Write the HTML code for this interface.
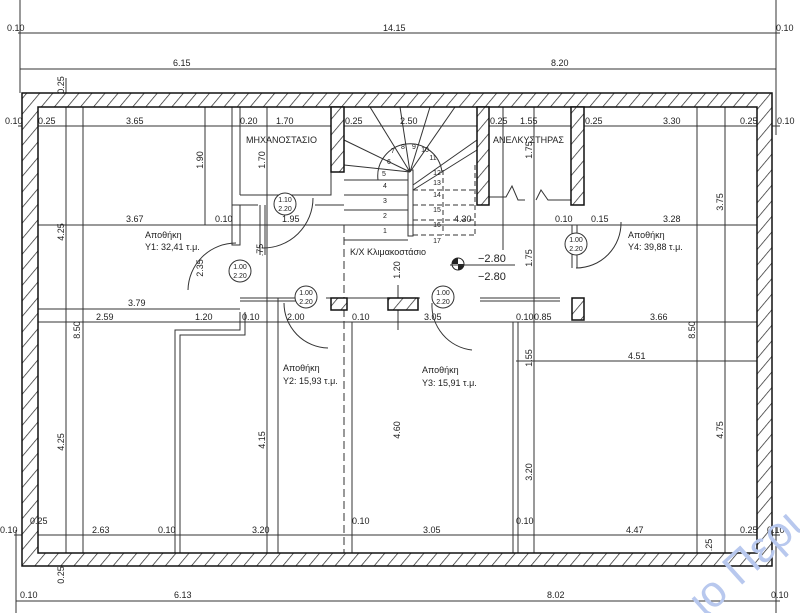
<!DOCTYPE html>
<html><head><meta charset="utf-8"><style>
html,body{margin:0;padding:0;background:#fff;width:800px;height:613px;overflow:hidden}
svg{display:block}
text{font-family:"Liberation Sans",sans-serif;fill:#222}
</style></head><body>
<svg width="800" height="613" viewBox="0 0 800 613" xmlns="http://www.w3.org/2000/svg">
<defs>
<pattern id="h" width="10" height="10" patternUnits="userSpaceOnUse" patternTransform="rotate(40)">
<rect width="10" height="10" fill="#fff"/><line x1="0" y1="0" x2="0" y2="10" stroke="#222" stroke-width="1.4"/>
</pattern>
</defs>
<g stroke="#333" stroke-width="1" fill="none">
<line x1="18" y1="33" x2="780" y2="33"/>
<line x1="20" y1="69" x2="776" y2="69"/>
<line x1="18" y1="126" x2="780" y2="126"/>
<line x1="30" y1="225" x2="760" y2="225"/>
<line x1="38" y1="309" x2="240" y2="309"/>
<line x1="30" y1="322" x2="760" y2="322"/>
<line x1="516" y1="361" x2="757" y2="361"/>
<line x1="14" y1="535" x2="780" y2="535"/>
<line x1="16" y1="601" x2="780" y2="601"/>
<line x1="20" y1="0" x2="20" y2="35"/>
<line x1="20" y1="33" x2="20" y2="93"/>
<line x1="16" y1="530" x2="16" y2="613"/>
<line x1="776" y1="0" x2="776" y2="135"/>
<line x1="776" y1="525" x2="776" y2="613"/>
<line x1="66" y1="78" x2="66" y2="560"/>
<line x1="83" y1="106" x2="83" y2="553"/>
<line x1="205" y1="107" x2="205" y2="225"/>
<line x1="267" y1="107" x2="267" y2="553"/>
<line x1="697" y1="107" x2="697" y2="553"/>
<line x1="725" y1="107" x2="725" y2="553"/>
<line x1="534" y1="107" x2="534" y2="553"/>
<line x1="344" y1="225" x2="344" y2="553" stroke-dasharray="8,4"/>
<line x1="503" y1="95" x2="503" y2="250"/>
<line x1="398" y1="285" x2="398" y2="330"/>
<polyline points="232,107 232,245 240,245 240,205 232,205"/>
<line x1="240" y1="107" x2="240" y2="195"/>
<polyline points="240,195 331,195 331,172"/>
<line x1="240" y1="205" x2="258" y2="205"/>
<line x1="315" y1="205" x2="344" y2="205"/>
<line x1="260" y1="205" x2="260" y2="255"/>
<line x1="265" y1="205" x2="265" y2="255"/>
<line x1="267" y1="290" x2="267" y2="553"/>
<line x1="278" y1="298" x2="278" y2="553"/>
<polyline points="175,553 175,330 240,330 240,312"/>
<polyline points="180,553 180,335 245,335 245,312"/>
<line x1="352" y1="322" x2="352" y2="553"/>
<line x1="513" y1="322" x2="513" y2="553"/>
<line x1="518" y1="322" x2="518" y2="553"/>
<line x1="572" y1="225" x2="572" y2="268"/>
<line x1="577" y1="225" x2="577" y2="268"/>
<line x1="240" y1="298" x2="300" y2="298"/>
<line x1="326" y1="298" x2="420" y2="298"/>
<line x1="480" y1="298" x2="560" y2="298"/>
<line x1="240" y1="301" x2="300" y2="301"/>
<line x1="480" y1="301" x2="560" y2="301"/>
<path d="M313 198 A50 50 0 0 1 262 248"/>
<path d="M188 290 A48 48 0 0 1 236 243"/>
<path d="M284 303 A45 45 0 0 0 328 348"/>
<path d="M432 303 A45 45 0 0 0 472 350"/>
<path d="M621 222 A45 45 0 0 1 576 268"/>
<line x1="344" y1="240" x2="408" y2="240"/>
<line x1="344" y1="225" x2="408" y2="225"/>
<line x1="344" y1="210" x2="408" y2="210"/>
<line x1="344" y1="195" x2="408" y2="195"/>
<line x1="344" y1="180" x2="408" y2="180"/>
<rect x="408" y="170" width="5" height="66"/>
<path d="M378 180 A32 32 0 0 1 442 172"/>
<line x1="410" y1="172" x2="344" y2="140"/>
<line x1="410" y1="172" x2="344" y2="165"/>
<line x1="410" y1="172" x2="370" y2="107"/>
<line x1="410" y1="172" x2="400" y2="107"/>
<line x1="410" y1="172" x2="430" y2="107"/>
<line x1="410" y1="172" x2="455" y2="107"/>
<line x1="413" y1="185" x2="477" y2="140"/>
<line x1="413" y1="190" x2="477" y2="150"/>
<g stroke-dasharray="5,3">
<line x1="413" y1="205" x2="475" y2="205"/>
<line x1="413" y1="220" x2="475" y2="220"/>
<line x1="413" y1="235" x2="475" y2="235"/>
<line x1="475" y1="165" x2="475" y2="235"/>
<line x1="413" y1="190" x2="475" y2="190"/>
<line x1="443" y1="170" x2="443" y2="235"/>
</g>
<polyline points="489,197 506,197 512,186 518,200 525,200"/>
<polyline points="536,200 541,190 548,200 571,200"/>
</g>
<g fill="url(#h)" stroke="#111" stroke-width="1.5">
<path d="M22 93 H772 V566 H22 Z M38 107 V553 H757 V107 Z" fill-rule="evenodd"/>
<rect x="331" y="107" width="13" height="65"/>
<rect x="477" y="107" width="12" height="98"/>
<rect x="571" y="107" width="13" height="98"/>
<rect x="572" y="298" width="12" height="22"/>
<rect x="331" y="298" width="16" height="12"/>
<rect x="388" y="298" width="30" height="12"/>
</g>
<g fill="#fff" stroke="#333">
<circle cx="285" cy="204" r="11"/><circle cx="240" cy="271" r="11"/>
<circle cx="306" cy="297" r="11"/><circle cx="443" cy="297" r="11"/>
<circle cx="576" cy="244" r="11"/>
</g>
<g font-size="7" text-anchor="middle">
<text x="285" y="202">1.10</text><text x="285" y="211">2.20</text>
<text x="240" y="269">1.00</text><text x="240" y="278">2.20</text>
<text x="306" y="295">1.00</text><text x="306" y="304">2.20</text>
<text x="443" y="295">1.00</text><text x="443" y="304">2.20</text>
<text x="576" y="242">1.00</text><text x="576" y="251">2.20</text>
</g>
<g font-size="9">
<text x="383" y="31">14.15</text>
<text x="7" y="31">0.10</text><text x="776" y="31">0.10</text>
<text x="173" y="66">6.15</text><text x="551" y="66">8.20</text>
<text x="5" y="124">0.10</text><text x="38" y="124">0.25</text><text x="126" y="124">3.65</text>
<text x="240" y="124">0.20</text><text x="276" y="124">1.70</text><text x="345" y="124">0.25</text>
<text x="400" y="124">2.50</text><text x="490" y="124">0.25</text><text x="520" y="124">1.55</text>
<text x="585" y="124">0.25</text><text x="663" y="124">3.30</text><text x="740" y="124">0.25</text><text x="777" y="124">0.10</text>
<text x="126" y="222">3.67</text><text x="215" y="222">0.10</text><text x="282" y="222">1.95</text>
<text x="454" y="222">4.30</text><text x="555" y="222">0.10</text><text x="591" y="222">0.15</text><text x="663" y="222">3.28</text>
<text x="128" y="306">3.79</text>
<text x="96" y="320">2.59</text><text x="195" y="320">1.20</text><text x="242" y="320">0.10</text><text x="287" y="320">2.00</text>
<text x="352" y="320">0.10</text><text x="424" y="320">3.05</text><text x="516" y="320">0.10</text><text x="534" y="320">0.85</text><text x="650" y="320">3.66</text>
<text x="628" y="359">4.51</text>
<text x="30" y="524">0.25</text><text x="92" y="533">2.63</text><text x="158" y="533">0.10</text><text x="252" y="533">3.20</text>
<text x="352" y="524">0.10</text><text x="423" y="533">3.05</text><text x="516" y="524">0.10</text><text x="626" y="533">4.47</text>
<text x="740" y="533">0.25</text><text x="767" y="533">0.10</text><text x="0" y="533">0.10</text>
<text x="20" y="598">0.10</text><text x="174" y="598">6.13</text><text x="547" y="598">8.02</text><text x="771" y="598">0.10</text>
</g>
<g font-size="9" text-anchor="middle">
<text transform="translate(64,85) rotate(-90)">0.25</text>
<text transform="translate(64,232) rotate(-90)">4.25</text>
<text transform="translate(64,442) rotate(-90)">4.25</text>
<text transform="translate(80,330) rotate(-90)">8.50</text>
<text transform="translate(203,160) rotate(-90)">1.90</text>
<text transform="translate(265,160) rotate(-90)">1.70</text>
<text transform="translate(265,440) rotate(-90)">4.15</text>
<text transform="translate(203,268) rotate(-90)">2.35</text>
<text transform="translate(263,250) rotate(-90)">.75</text>
<text transform="translate(400,270) rotate(-90)">1.20</text>
<text transform="translate(400,430) rotate(-90)">4.60</text>
<text transform="translate(532,150) rotate(-90)">1.75</text>
<text transform="translate(532,258) rotate(-90)">1.75</text>
<text transform="translate(532,358) rotate(-90)">1.55</text>
<text transform="translate(532,472) rotate(-90)">3.20</text>
<text transform="translate(695,330) rotate(-90)">8.50</text>
<text transform="translate(723,202) rotate(-90)">3.75</text>
<text transform="translate(723,430) rotate(-90)">4.75</text>
<text transform="translate(64,575) rotate(-90)">0.25</text>
<text transform="translate(712,545) rotate(-90)">.25</text>
</g>
<g font-size="9">
<text x="246" y="143">ΜΗΧΑΝΟΣΤΑΣΙΟ</text>
<text x="493" y="143">ΑΝΕΛΚΥΣΤΗΡΑΣ</text>
<text x="145" y="238">Αποθήκη</text><text x="145" y="250">Υ1: 32,41 τ.μ.</text>
<text x="350" y="255">Κ/Χ Κλιμακοστάσιο</text>
<text x="628" y="238">Αποθήκη</text><text x="628" y="250">Υ4: 39,88 τ.μ.</text>
<text x="283" y="371">Αποθήκη</text><text x="283" y="384">Υ2: 15,93 τ.μ.</text>
<text x="422" y="373">Αποθήκη</text><text x="422" y="386">Υ3: 15,91 τ.μ.</text>
</g>
<g font-size="7" text-anchor="middle">
<text x="385" y="233">1</text><text x="385" y="218">2</text><text x="385" y="203">3</text><text x="385" y="188">4</text>
<text x="384" y="176">5</text><text x="389" y="164">6</text><text x="393" y="153">7</text><text x="403" y="149">8</text>
<text x="414" y="149">9</text><text x="425" y="152">10</text><text x="433" y="160">11</text><text x="437" y="175">12</text>
<text x="437" y="185">13</text><text x="437" y="197">14</text><text x="437" y="212">15</text><text x="437" y="227">16</text><text x="437" y="243">17</text>
</g>
<circle cx="458" cy="264" r="6" fill="#fff" stroke="#222"/>
<path d="M458 258 A6 6 0 0 0 452 264 H458 Z M458 270 A6 6 0 0 0 464 264 H458 Z" fill="#222"/>
<line x1="450" y1="265" x2="515" y2="265" stroke="#333"/>
<text x="478" y="262" font-size="11">−2.80</text>
<text x="478" y="280" font-size="11">−2.80</text>
<text x="0" y="0" font-size="44" style="fill:#b8c8ee" transform="translate(705,618) rotate(-42)">ιο Περι</text>
</svg>
</body></html>
